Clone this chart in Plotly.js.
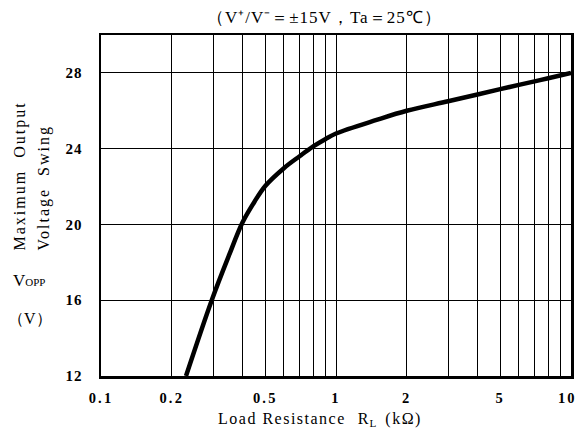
<!DOCTYPE html>
<html>
<head>
<meta charset="utf-8">
<script src="https://cdn.plot.ly/plotly-3.0.1.min.js"></script>
<style>html,body{margin:0;padding:0;background:#fff;}#chart{width:576px;height:434px;}</style>
</head>
<body>
<div id="chart"></div>
<script>
// Load resistance (kΩ) and maximum output voltage swing (V)
const loadResistance = [0.23, 0.296, 0.35, 0.4, 0.45, 0.5, 0.6, 0.7, 0.8, 0.9, 1, 1.5, 2, 3, 4, 5, 6, 7, 8, 10];
const voltageSwing   = [12, 16, 18.35, 20.1, 21.2, 22.03, 22.97, 23.6, 24.12, 24.5, 24.8, 25.53, 26.0, 26.5, 26.86, 27.14, 27.37, 27.55, 27.72, 28.0];

const xTickVals = [0.1,0.2,0.3,0.4,0.5,0.6,0.7,0.8,0.9,1,2,3,4,5,6,7,8,9,10];
const xTickText = ['0.1','0.2','','','0.5','','','','','1','2','','','5','','','','','10'];
const yTickVals = [12,16,20,24,28];
const yTickText = ['12','16','20','24','28'];

const L = 101, R = 5, T = 35, B = 58, W = 576, H = 434;
const pw = W - L - R, ph = H - T - B;
const px = v => (v - L) / pw;
const py = v => (H - B - v) / ph;

const serif = 'Liberation Serif, Times New Roman, serif';
const sp = (s, n) => s ? '<span style="letter-spacing:' + n + 'px">' + s + '</span>' : '';

const trace = {
  x: loadResistance, y: voltageSwing, type: 'scatter', mode: 'lines',
  line: {color: '#000', width: 4.5, shape: 'spline', smoothing: 1},
  hoverinfo: 'skip'
};

const layout = {
  width: W, height: H,
  margin: {l: L, r: R, t: T, b: B},
  paper_bgcolor: '#fff', plot_bgcolor: '#fff',
  showlegend: false,
  xaxis: {
    type: 'log', range: [-1, 1],
    tickmode: 'array', tickvals: xTickVals,
    ticktext: xTickText.map((t, i) => sp(t, 2.2) + (i === xTickText.length - 1 ? '\u2002' : '')),
    showgrid: true, gridcolor: '#000', gridwidth: 1,
    showline: true, linecolor: '#000', linewidth: 2.5, mirror: true,
    ticks: '', ticklabelstandoff: 7, ticklabeloverflow: 'allow', zeroline: false,
    tickfont: {family: serif, size: 14.5, color: '#000', weight: 'bold'}
  },
  yaxis: {
    range: [12, 30],
    tickmode: 'array', tickvals: yTickVals,
    ticktext: yTickText.map(t => sp(t, 1)),
    showgrid: true, gridcolor: '#000', gridwidth: 1,
    showline: true, linecolor: '#000', linewidth: 2.5, mirror: true,
    ticks: '', ticklabelstandoff: 13, zeroline: false,
    tickfont: {family: serif, size: 15, color: '#000', weight: 'bold'}
  },
  annotations: [
    {text: sp('（V⁺/V⁻＝±15V，Ta＝25℃）', 1), xref: 'paper', yref: 'paper', x: px(324), y: py(17),
     xanchor: 'center', yanchor: 'middle', showarrow: false,
     font: {family: serif, size: 17, color: '#000'}},
    {text: sp('Load Resistance', 1.5) + '   ' + sp('R<sub>L</sub>', 1) + '  ' + sp('(kΩ)', 1.5), xref: 'paper', yref: 'paper', x: px(320), y: py(420),
     xanchor: 'center', yanchor: 'middle', showarrow: false,
     font: {family: serif, size: 16, color: '#000'}},
    {text: sp('Maximum  Output', 2), xref: 'paper', yref: 'paper', x: px(19), y: py(253),
     xanchor: 'center', yanchor: 'bottom', textangle: -90, showarrow: false,
     font: {family: serif, size: 16, color: '#000'}},
    {text: sp('Voltage  Swing', 2), xref: 'paper', yref: 'paper', x: px(43), y: py(253),
     xanchor: 'center', yanchor: 'bottom', textangle: -90, showarrow: false,
     font: {family: serif, size: 16, color: '#000'}},
    {text: 'V<span style="font-size:11px">OPP</span>', xref: 'paper', yref: 'paper', x: px(29), y: py(280),
     xanchor: 'center', yanchor: 'middle', showarrow: false,
     font: {family: serif, size: 17, color: '#000'}},
    {text: '（V）', xref: 'paper', yref: 'paper', x: px(30), y: py(318),
     xanchor: 'center', yanchor: 'middle', showarrow: false,
     font: {family: serif, size: 16, color: '#000'}}
  ]
};

Plotly.newPlot('chart', [trace], layout, {staticPlot: true, displayModeBar: false});
</script>
</body>
</html>
